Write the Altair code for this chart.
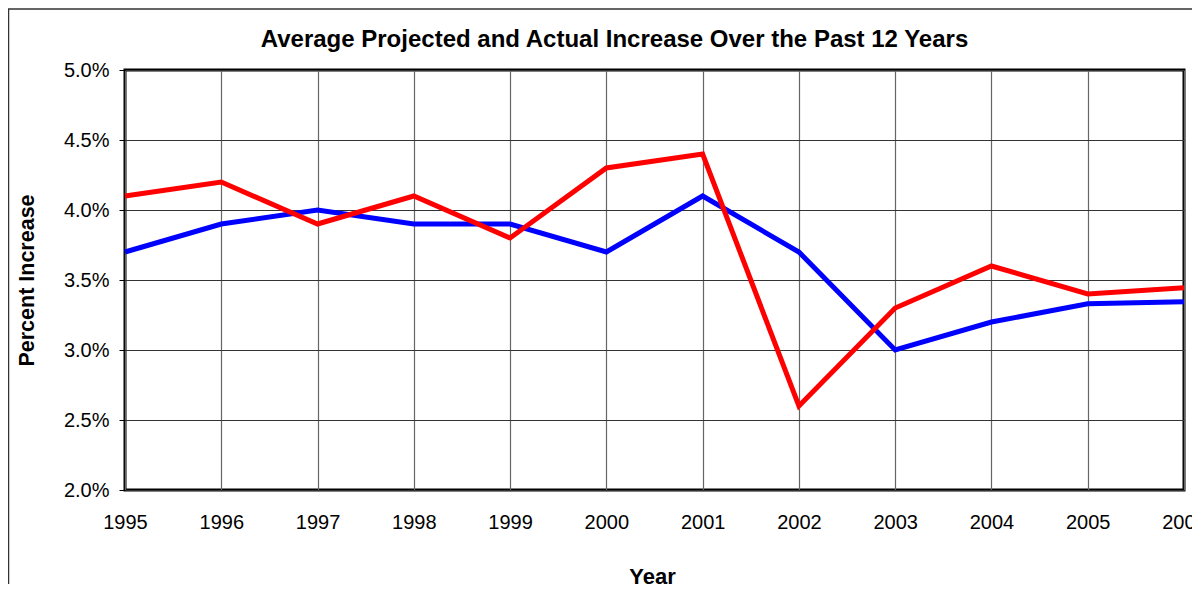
import altair as alt
import pandas as pd

years = list(range(1995, 2007))
actual = [0.041, 0.042, 0.039, 0.041, 0.038, 0.043, 0.044, 0.026, 0.033, 0.036, 0.034, 0.03445]
projected = [0.037, 0.039, 0.040, 0.039, 0.039, 0.037, 0.041, 0.037, 0.030, 0.032, 0.0333, 0.03345]
y_ticks = [0.02, 0.025, 0.03, 0.035, 0.04, 0.045, 0.05]

FONT = "Liberation Sans"
W, H = 1059, 420

df_blue = pd.DataFrame({"Year": years, "Value": projected, "Series": "Projected"})
df_red = pd.DataFrame({"Year": years, "Value": actual, "Series": "Actual"})

x_enc = alt.X(
    "Year:Q",
    scale=alt.Scale(domain=[1995, 2006], nice=False, zero=False),
    axis=alt.Axis(
        values=years, format="d", ticks=False, domain=False,
        labelFont=FONT, labelFontSize=20, labelColor="black", labelPadding=22,
        labelFlush=False, labelOverlap=False,
        gridColor="#666666", gridWidth=1.2,
        title="Year", titleFont=FONT, titleFontSize=22, titleFontWeight="bold",
        titleColor="black", titleX=527, titleY=93, titleBaseline="alphabetic",
        titleAlign="center",
    ),
)
y_enc = alt.Y(
    "Value:Q",
    scale=alt.Scale(domain=[0.02, 0.05], nice=False, zero=False),
    axis=alt.Axis(
        values=y_ticks, format=".1%", domain=False,
        ticks=True, tickSize=6, tickColor="black", tickWidth=1,
        labelFont=FONT, labelFontSize=20, labelColor="black", labelPadding=10,
        gridColor="#333333", gridWidth=1,
        title="Percent Increase", titleFont=FONT, titleFontSize=21.5,
        titleFontWeight="bold", titleColor="black", titleAngle=-90,
        titleX=-92, titleY=210, titleBaseline="alphabetic", titleAlign="center",
    ),
)

frame = alt.Chart(pd.DataFrame({"a": [0]})).mark_rect(
    filled=False, stroke="#333333", strokeWidth=1.5
).encode(
    x=alt.value(-116.5), y=alt.value(-61), x2=alt.value(1200), y2=alt.value(700)
)

blue = alt.Chart(df_blue).mark_line(color="#0000FF", strokeWidth=5).encode(x=x_enc, y=y_enc)
red = alt.Chart(df_red).mark_line(color="#FF0000", strokeWidth=5).encode(x=x_enc, y=y_enc)

chart = alt.layer(frame, blue, red).properties(
    width=W, height=H,
    title=alt.TitleParams(
        "Average Projected and Actual Increase Over the Past 12 Years",
        font=FONT, fontSize=24, fontWeight="bold", color="black",
        anchor="middle", dx=-40, offset=-63, frame="group", baseline="alphabetic",
    ),
    autosize=alt.AutoSizeParams(type="none"),
    padding={"left": 117, "top": 62, "right": 8, "bottom": 94},
).configure(background="white").configure_view(stroke="black", strokeWidth=3)

chart.save("out.html", embed_options={"renderer": "svg", "actions": False})
